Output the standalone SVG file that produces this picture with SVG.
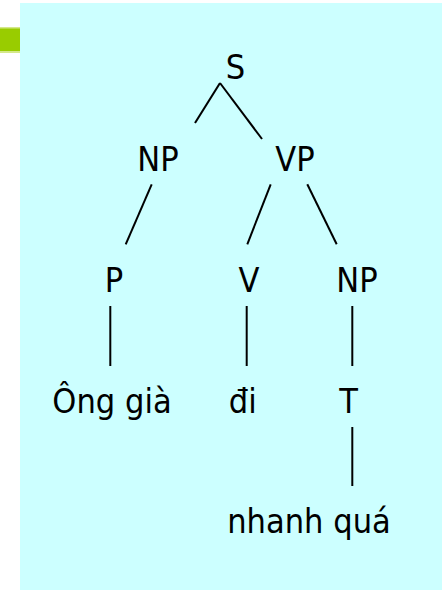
<svg xmlns="http://www.w3.org/2000/svg" width="442" height="590" viewBox="0 0 442 590">
<style>
text{font-family:"DejaVu Sans Condensed","DejaVu Sans",sans-serif;font-stretch:condensed;font-size:34px;fill:#000;text-anchor:middle}
.e line{stroke:#000;stroke-width:2;stroke-linecap:butt}
</style>
<rect x="20" y="3" width="422" height="587" fill="#CCFFFF"/>
<rect x="0" y="27" width="20" height="26" fill="#D4E88A"/>
<rect x="0" y="28.5" width="20" height="22.5" fill="#99CC00"/>
<g class="e" id="connectors">
<line x1="220" y1="83" x2="195" y2="123"/>
<line x1="220" y1="83" x2="262" y2="139"/>
<line x1="151.7" y1="184.3" x2="125.7" y2="244.3"/>
<line x1="270.7" y1="184.3" x2="247.3" y2="244.3"/>
<line x1="307.3" y1="184.3" x2="336.7" y2="244.3"/>
<line x1="110.3" y1="306" x2="110.3" y2="366"/>
<line x1="246.7" y1="306" x2="246.7" y2="366"/>
<line x1="352.3" y1="306" x2="352.3" y2="366"/>
<line x1="352.3" y1="427" x2="352.3" y2="486"/>
</g>
<g id="n-S"><text x="235.5" y="79">S</text></g>
<g id="n-NP1"><text x="158" y="171">NP</text></g>
<g id="n-VP"><text x="295" y="171">VP</text></g>
<g id="n-P"><text x="114" y="292">P</text></g>
<g id="n-V"><text x="249" y="292">V</text></g>
<g id="n-NP2"><text x="357" y="292">NP</text></g>
<g id="n-ong"><text x="112" y="413">Ông già</text></g>
<g id="n-di"><text x="242.7" y="413">đi</text></g>
<g id="n-T"><text x="348.7" y="413">T</text></g>
<g id="n-nhanh"><text x="309" y="533">nhanh quá</text></g>
</svg>
